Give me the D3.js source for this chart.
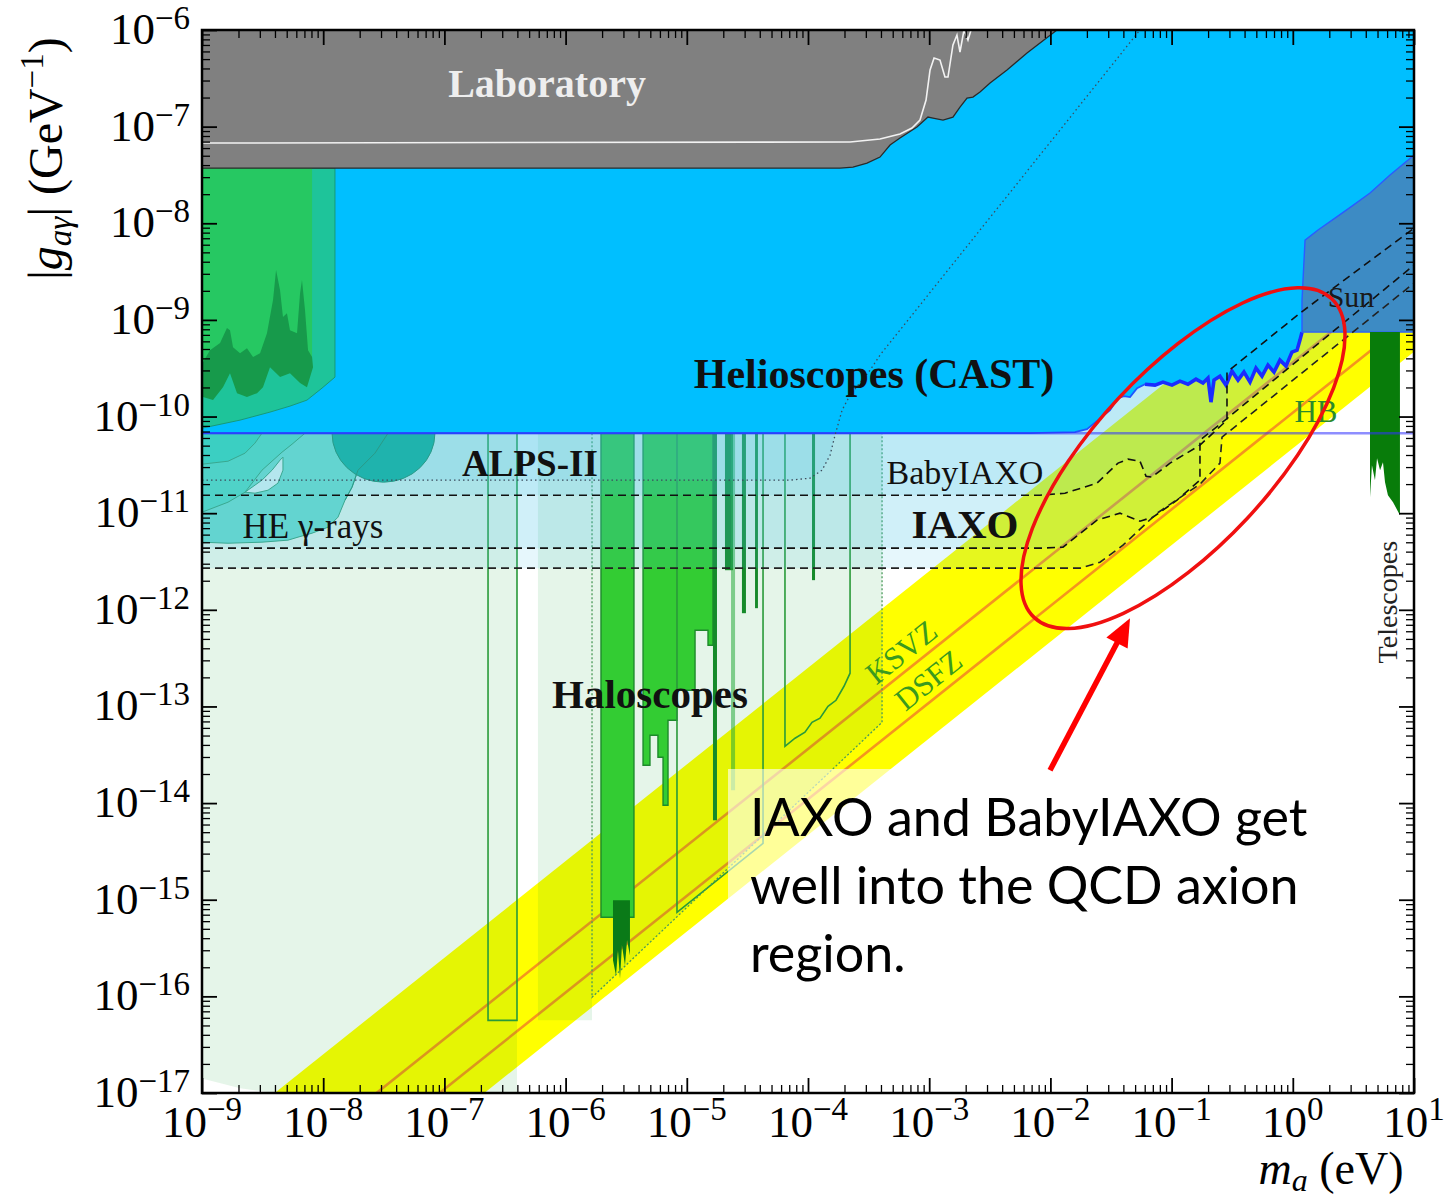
<!DOCTYPE html>
<html>
<head>
<meta charset="utf-8">
<script src="https://cdn.jsdelivr.net/npm/d3@7"></script>
<style>
  html, body { margin: 0; padding: 0; background: #fff; }
  svg { display: block; }
</style>
</head>
<body>
<svg id="chart" width="1446" height="1203"></svg>
<script>
// every point is [log10(m_a / eV), log10(|g_ag| / GeV^-1)]

const massDecades = d3.range(-9, 2);
const couplingDecades = d3.range(-17, -5);

// QCD axion band and the two model lines
const qcdUpper = [[-9, -17.60], [1, -7.60]];
const qcdLower = [[-9, -19.33], [1, -9.33]];
const ksvzLine = [[-9, -18.44], [1, -8.44]];
const dfszLine = [[-9, -18.96], [1, -8.96]];

// Laboratory (light shining through wall etc.)
const labRegion = [[-9, -6], [-1.946, -6], [-2.193, -6.238], [-2.358, -6.414], [-2.498, -6.549],
  [-2.581, -6.642], [-2.639, -6.694], [-2.688, -6.704], [-2.746, -6.797], [-2.804, -6.901],
  [-2.886, -6.932], [-2.969, -6.911], [-3.010, -6.901], [-3.101, -7.004], [-3.241, -7.118],
  [-3.323, -7.190], [-3.406, -7.315], [-3.513, -7.377], [-3.629, -7.418], [-3.736, -7.429], [-9, -7.429]];
const labWhiteLine = [[-9, -7.17], [-3.653, -7.159], [-3.406, -7.128], [-3.241, -7.077], [-3.142, -7.014],
  [-3.076, -6.932], [-3.026, -6.725], [-2.993, -6.414], [-2.960, -6.290], [-2.911, -6.311], [-2.870, -6.487],
  [-2.845, -6.487], [-2.804, -6.155], [-2.771, -6.052], [-2.746, -6.228], [-2.713, -6.0], [-2.680, -6.104], [-2.655, -6.0]];

// CAST lower edge (HB bound on the left, noisy CAST data on the right)
const castEdge = [[-9, -10.172], [-2.168, -10.172], [-1.797, -10.162], [-1.698, -10.130], [-1.607, -10.037],
  [-1.508, -9.934], [-1.442, -9.810], [-1.393, -9.789], [-1.343, -9.799], [-1.285, -9.706], [-1.219, -9.665],
  [-1.137, -9.675], [-1.071, -9.644], [-0.997, -9.675], [-0.931, -9.634], [-0.865, -9.665], [-0.799, -9.613],
  [-0.741, -9.654], [-0.700, -9.602], [-0.675, -9.851], [-0.650, -9.623], [-0.601, -9.582], [-0.551, -9.675],
  [-0.502, -9.530], [-0.452, -9.623], [-0.403, -9.540], [-0.353, -9.644], [-0.304, -9.499], [-0.254, -9.582],
  [-0.205, -9.468], [-0.155, -9.540], [-0.106, -9.416], [-0.056, -9.478], [-0.007, -9.333], [0.035, -9.313],
  [0.059, -9.209], [0.076, -9.126]];
const sunRegion = [[0.076, -9.126], [0.076, -8.795], [0.101, -8.174], [0.208, -8.070], [0.348, -7.946],
  [0.488, -7.822], [0.637, -7.687], [0.802, -7.501], [1, -7.294], [1, -9.126]];
const telescopes = [[0.637, -9.126], [0.884, -9.126], [0.884, -11.021], [0.827, -10.886], [0.785, -10.814],
  [0.761, -10.679], [0.744, -10.472], [0.720, -10.555], [0.695, -10.431], [0.678, -10.658], [0.653, -10.503],
  [0.637, -10.834]];

// astrophysics block in the upper left
const topLeftTeal = [[-9, -7.429], [-7.903, -7.429], [-7.903, -9.592], [-8.010, -9.706], [-8.134, -9.830],
  [-8.274, -9.892], [-8.439, -9.954], [-8.686, -10.037], [-9, -10.120]];
const topLeftGreen = [[-9, -7.429], [-8.092, -7.429], [-8.092, -9.47], [-9, -9.47]];
const darkGreenTop = [[-9, -9.44], [-8.992, -9.437], [-8.934, -9.313], [-8.851, -9.240], [-8.794, -9.085],
  [-8.769, -9.106], [-8.744, -9.282], [-8.686, -9.344], [-8.629, -9.292], [-8.579, -9.385], [-8.521, -9.344],
  [-8.464, -9.137], [-8.414, -8.795], [-8.389, -8.484], [-8.356, -8.692], [-8.332, -8.971], [-8.299, -8.930],
  [-8.274, -9.106], [-8.216, -9.137], [-8.191, -8.723], [-8.175, -8.588], [-8.150, -8.899], [-8.125, -9.313],
  [-8.092, -9.385]];
const darkGreenBottom = [[-8.084, -9.489], [-8.134, -9.696], [-8.191, -9.654], [-8.274, -9.551], [-8.356, -9.592],
  [-8.439, -9.489], [-8.497, -9.696], [-8.546, -9.758], [-8.629, -9.799], [-8.711, -9.758], [-8.769, -9.551],
  [-8.827, -9.696], [-8.909, -9.830], [-8.992, -9.799], [-9, -9.80]];

// HE gamma-ray bounds
const heOuter = [[-9, -10.172], [-7.465, -10.172], [-7.573, -10.379], [-7.713, -10.555], [-7.762, -10.731],
  [-7.820, -10.865], [-7.878, -11.041], [-7.960, -11.145], [-8.092, -11.207], [-8.208, -11.248],
  [-8.290, -11.279], [-8.505, -11.300], [-8.785, -11.311], [-9, -11.300]];
const heMid = [[-9, -10.172], [-8.150, -10.172], [-8.257, -10.286], [-8.340, -10.369], [-8.505, -10.555],
  [-8.645, -10.783], [-8.785, -10.886], [-9, -10.990]];
const heCorner = [[-9, -10.172], [-8.505, -10.172], [-8.563, -10.275], [-8.645, -10.379], [-8.785, -10.462], [-9, -10.493]];
const heHole = [[-8.645, -10.783], [-8.505, -10.658], [-8.422, -10.555], [-8.356, -10.451], [-8.332, -10.420],
  [-8.332, -10.555], [-8.373, -10.689], [-8.455, -10.762], [-8.563, -10.793]];
const heDisk = [-7.927, -7.078, -10.172, -10.679]; // mass from, mass to, g top, g bottom

// haloscopes: projected areas, outlines, and excluded strips
const paleLeft = [[-9, -10.172], [-6.401, -10.172], [-6.401, -17], [-8.398, -17], [-8.686, -16.952], [-9, -16.849]];
const paleMid = [[-6.228, -10.172], [-5.782, -10.172], [-5.782, -16.248], [-6.228, -16.248]];
const paleRight = [[-5.782, -10.172], [-5.782, -16.010], [-3.389, -13.164], [-3.389, -10.172]];
const outlineR1 = [[-6.640, -10.172], [-6.640, -16.248], [-6.401, -16.248], [-6.401, -10.172]];
const outlineP2 = [[-5.081, -10.172], [-5.081, -15.130], [-4.371, -14.416], [-4.371, -10.172]];
const outlineP4 = [[-4.190, -10.172], [-4.190, -13.412], [-4.107, -13.329], [-4.025, -13.267], [-3.967, -13.164],
  [-3.901, -13.122], [-3.835, -12.998], [-3.769, -12.936], [-3.703, -12.791], [-3.653, -12.656], [-3.653, -10.172]];
const stripA = [[-5.708, -10.172], [-5.708, -15.182], [-5.436, -15.182], [-5.436, -10.172]];
const stripADeep = [[-5.609, -15.006], [-5.609, -15.627], [-5.584, -15.783], [-5.568, -15.524], [-5.551, -15.814],
  [-5.535, -15.472], [-5.510, -15.679], [-5.493, -15.420], [-5.469, -15.576], [-5.469, -15.006]];
const stripB = [[-5.361, -10.172], [-5.361, -13.609], [-5.304, -13.609], [-5.304, -13.298], [-5.238, -13.298],
  [-5.238, -13.526], [-5.196, -13.526], [-5.196, -14.023], [-5.155, -14.023], [-5.155, -13.143], [-5.081, -13.143],
  [-5.081, -12.832], [-4.932, -12.832], [-4.932, -12.211], [-4.825, -12.211], [-4.825, -12.366], [-4.784, -12.366],
  [-4.784, -10.172]];
const thinStrips = [[-4.784, -4.751, -14.178], [-4.685, -4.619, -11.59], [-4.545, -4.512, -12.035],
  [-4.437, -4.413, -11.983], [-3.967, -3.942, -11.693]];
const faintStrip = [-4.635, -4.602, -13.867];

// projected sensitivities (lower edges)
const alpsCurve = [[-9, -10.658], [-4.149, -10.658], [-3.983, -10.638], [-3.884, -10.555], [-3.818, -10.400],
  [-3.777, -10.193], [-3.719, -9.934], [-3.653, -9.778], [-3.587, -9.675], [-3.488, -9.520], [-3.406, -9.364], [-1.261, -6]];
const babyCurve = [[-9, -10.814], [-2.086, -10.814], [-1.880, -10.793], [-1.616, -10.689], [-1.442, -10.482],
  [-1.360, -10.441], [-1.261, -10.462], [-1.211, -10.617], [-1.162, -10.627], [-1.013, -10.482], [-0.766, -10.296],
  [-0.543, -10.037], [-0.543, -9.540], [0.059, -8.930], [1, -8.050]];
const iaxoCurve = [[-9, -11.362], [-2.086, -11.362], [-1.896, -11.352], [-1.616, -11.072], [-1.426, -11.0],
  [-1.261, -11.083], [-1.153, -11.041], [-0.955, -10.865], [-0.766, -10.658], [-0.766, -10.244], [-0.559, -10.037], [1, -8.433]];
const iaxoPlusCurve = [[-9, -11.569], [-1.756, -11.569], [-1.591, -11.507], [-1.401, -11.331], [-1.120, -11.0],
  [-0.766, -10.700], [-0.601, -10.482], [-0.584, -10.213], [1, -8.619]];

const noteLines = ['IAXO and BabyIAXO get', 'well into the QCD axion', 'region.'];

// ---------------------------------------------------------------

const serif = '"Liberation Serif", "Times New Roman", serif';
const svg = d3.select('#chart');

const x = d3.scaleLog().domain([1e-9, 1e1]).range([202, 1414]);
const y = d3.scaleLog().domain([1e-17, 1e-6]).range([1093, 30]);
const px = d => x(Math.pow(10, d[0]));
const py = d => y(Math.pow(10, d[1]));
const line = d3.line().x(px).y(py);
const closed = pts => line(pts) + 'Z';
const [x0, x1] = x.range();
const [y1, y0] = y.range();

svg.append('rect').attr('width', 1446).attr('height', 1203).attr('fill', '#fff');
svg.append('defs').append('clipPath').attr('id', 'plotClip')
  .append('rect').attr('x', x0).attr('y', y0).attr('width', x1 - x0).attr('height', y1 - y0);

const plot = svg.append('g').attr('clip-path', 'url(#plotClip)');

function region(pts, fill, stroke, sw, dash) {
  return plot.append('path')
    .attr('d', closed(pts))
    .attr('fill', fill)
    .attr('stroke', stroke || 'none')
    .attr('stroke-width', sw || 1)
    .attr('stroke-dasharray', dash || null);
}
function curve(pts, stroke, sw, dash) {
  return plot.append('path')
    .attr('d', line(pts))
    .attr('fill', 'none')
    .attr('stroke', stroke)
    .attr('stroke-width', sw)
    .attr('stroke-dasharray', dash || null);
}
function strip(m0, m1, gTop, gBottom, fill) {
  return plot.append('rect')
    .attr('x', px([m0, 0])).attr('width', px([m1, 0]) - px([m0, 0]))
    .attr('y', py([0, gTop])).attr('height', py([0, gBottom]) - py([0, gTop]))
    .attr('fill', fill);
}
const topEdge = [[1, -6], [-9, -6]];

// QCD band
region([qcdUpper[0], qcdUpper[1], qcdLower[1], qcdLower[0]], '#ffff00');
curve(ksvzLine, '#f4951f', 2.6);
curve(dfszLine, '#f4951f', 2.6);

// haloscope projections
[paleLeft, paleMid, paleRight].forEach(p => region(p, 'rgba(0,160,40,0.1)'));

// haloscope exclusions
region(stripA, '#33cc33', '#1d8a2b', 1.4);
region(stripADeep, '#0a7a18');
region(stripB, '#33cc33', '#1d8a2b', 1.4);
thinStrips.forEach(s => strip(s[0], s[1], -10.172, s[2], '#168a2a'));
strip(faintStrip[0], faintStrip[1], -10.172, faintStrip[2], 'rgba(40,170,60,0.55)');
region(outlineR1, 'none', '#2a9a3a', 1.6);
region(outlineP2, 'none', '#2a9a3a', 1.6);
region(outlineP4, 'none', '#2a9a3a', 1.6);
region(paleRight, 'none', '#4a9a5a', 1.3, '2,2');

// projected sensitivity shading
[alpsCurve, babyCurve, iaxoCurve, iaxoPlusCurve].forEach(c =>
  region(c.concat(topEdge), 'rgba(60,190,230,0.13)'));

// HE gamma rays
region(heOuter, '#63d4d0', '#3aa890', 1);
region(heMid, '#4fd2c8', '#3aa890', 1);
region(heCorner, '#3bcfc2', '#3aa890', 1);
region(heHole, '#b4e6ee', '#3aa890', 1);
{
  const cx = (px([heDisk[0], 0]) + px([heDisk[1], 0])) / 2;
  const rx = (px([heDisk[1], 0]) - px([heDisk[0], 0])) / 2;
  const top = py([0, heDisk[2]]);
  const ry = py([0, heDisk[3]]) - top;
  plot.append('path')
    .attr('d', `M${cx - rx},${top} A${rx},${ry} 0 0 0 ${cx + rx},${top} Z`)
    .attr('fill', '#1fb3ad').attr('stroke', '#2a9a88').attr('stroke-width', 1);
  curve(heOuter.slice(1, 6), '#2a9a88', 1);
}

// helioscopes
region(castEdge.concat([[1, -9.126], [1, -6], [-9, -6]]), '#00bfff');
curve(castEdge.slice(0, 12), '#1f56ff', 1.8);
curve(castEdge.slice(10), '#1a2cff', 3.6);
region(sunRegion, '#3d8bc4', '#2a5cff', 1.4);

// top-left astrophysical bounds
region(topLeftTeal, '#1ec49a', '#179a78', 1);
region(topLeftGreen, '#26c862');
region(darkGreenTop.concat(darkGreenBottom), '#179a4b');

// telescopes
region(telescopes, '#087c0a');

// HB
curve([[-9, -10.172], [1, -10.172]], 'rgba(50,50,255,0.55)', 2.5);

// laboratory
region(labRegion, '#808080', '#2a2a2a', 1.3);
curve(labWhiteLine, '#f2f2f2', 1.6);

// projections
curve(alpsCurve, '#3c4c5c', 1.3, '1.5,3');
curve(babyCurve, '#111', 1.6, '8,5');
curve(iaxoCurve, '#111', 1.6, '8,5');
curve(iaxoPlusCurve, '#222', 1.6, '8,5');

// labels in the plot
const slope = -Math.atan((y1 - y0) / 11 / ((x1 - x0) / 10)) * 180 / Math.PI;
const inPlot = [
  { t: 'Laboratory', p: [-6.153, -6.694], s: 40, w: 'bold', c: '#eeeeee' },
  { t: 'Helioscopes (CAST)', p: [-3.455, -9.706], s: 42, w: 'bold', c: '#111' },
  { t: 'ALPS-II', p: [-6.294, -10.617], s: 37, w: 'bold', c: '#111' },
  { t: 'BabyIAXO', p: [-2.705, -10.700], s: 34, w: 'normal', c: '#111' },
  { t: 'IAXO', p: [-2.705, -11.259], s: 41, w: 'bold', c: '#111' },
  { t: 'HE \u03b3-rays', p: [-8.084, -11.259], s: 35, w: 'normal', c: '#111' },
  { t: 'Haloscopes', p: [-5.304, -13.019], s: 41, w: 'bold', c: '#111' },
  { t: 'Sun', p: [0.480, -8.868], s: 30, w: 'normal', c: '#1a1a1a' },
  { t: 'HB', p: [0.191, -10.058], s: 31, w: 'normal', c: '#2b8a2b' },
  { t: 'Telescopes', p: [0.860, -11.921], s: 28, w: 'normal', c: '#222', r: -90 },
  { t: 'KSVZ', p: [-3.175, -12.522], s: 31, w: 'normal', c: '#3a9a1e', r: slope },
  { t: 'DSFZ', p: [-2.952, -12.812], s: 31, w: 'normal', c: '#3a9a1e', r: slope }
];
plot.selectAll('text.lbl').data(inPlot).enter().append('text')
  .attr('class', 'lbl')
  .attr('transform', d => `translate(${px(d.p)},${py(d.p)}) rotate(${d.r || 0})`)
  .attr('text-anchor', 'middle')
  .attr('font-family', serif)
  .attr('font-size', d => d.s)
  .attr('font-weight', d => d.w)
  .attr('fill', d => d.c)
  .text(d => d.t);

// axes
const majorX = massDecades.map(e => Math.pow(10, e));
const majorY = couplingDecades.map(e => Math.pow(10, e));
const minorX = [], minorY = [];
massDecades.slice(0, -1).forEach(e => d3.range(2, 10).forEach(k => minorX.push(k * Math.pow(10, e))));
couplingDecades.slice(0, -1).forEach(e => d3.range(2, 10).forEach(k => minorY.push(k * Math.pow(10, e))));

function addTicks(axisFn, scale, transform, values, size, width) {
  const g = svg.append('g').attr('transform', transform)
    .call(axisFn(scale).tickValues(values).tickSize(-size).tickFormat(''));
  g.select('.domain').remove();
  g.selectAll('.tick line').attr('stroke', '#000').attr('stroke-width', width);
}
[[majorX, 15, 1.8], [minorX, 8, 1.3]].forEach(([v, s, w]) => {
  addTicks(d3.axisBottom, x, `translate(0,${y1})`, v, s, w);
  addTicks(d3.axisTop, x, `translate(0,${y0})`, v, s, w);
});
[[majorY, 15, 1.8], [minorY, 8, 1.3]].forEach(([v, s, w]) => {
  addTicks(d3.axisLeft, y, `translate(${x0},0)`, v, s, w);
  addTicks(d3.axisRight, y, `translate(${x1},0)`, v, s, w);
});
svg.append('rect').attr('x', x0).attr('y', y0).attr('width', x1 - x0).attr('height', y1 - y0)
  .attr('fill', 'none').attr('stroke', '#000').attr('stroke-width', 2.5);

const expText = e => (e < 0 ? '\u2212' + (-e) : String(e));
const xLab = svg.selectAll('text.xt').data(massDecades).enter().append('text')
  .attr('class', 'xt')
  .attr('x', e => x(Math.pow(10, e)))
  .attr('y', y1 + 44)
  .attr('text-anchor', 'middle')
  .attr('font-family', serif).attr('font-size', 45).attr('fill', '#000');
xLab.append('tspan').text('10');
xLab.append('tspan').attr('font-size', 33).attr('dy', -17).text(expText);

const yLab = svg.selectAll('text.yt').data(couplingDecades).enter().append('text')
  .attr('class', 'yt')
  .attr('x', x0 - 12)
  .attr('y', e => y(Math.pow(10, e)) + 14)
  .attr('text-anchor', 'end')
  .attr('font-family', serif).attr('font-size', 45).attr('fill', '#000');
yLab.append('tspan').text('10');
yLab.append('tspan').attr('font-size', 33).attr('dy', -15).text(expText);

const yTitle = svg.append('text')
  .attr('transform', `translate(62,${(y0 + 287) / 2}) rotate(-90)`)
  .attr('text-anchor', 'middle').attr('font-family', serif).attr('font-size', 48);
yTitle.append('tspan').text('|');
yTitle.append('tspan').attr('font-style', 'italic').text('g');
yTitle.append('tspan').attr('font-style', 'italic').attr('font-size', 33).attr('dy', 9).text('a\u03b3');
yTitle.append('tspan').attr('dy', -9).text('| (GeV');
yTitle.append('tspan').attr('font-size', 33).attr('dy', -19).text('\u22121');
yTitle.append('tspan').attr('dy', 19).text(')');

const xTitle = svg.append('text')
  .attr('x', 1331).attr('y', 1184)
  .attr('text-anchor', 'middle').attr('font-family', serif).attr('font-size', 46);
xTitle.append('tspan').attr('font-style', 'italic').text('m');
xTitle.append('tspan').attr('font-style', 'italic').attr('font-size', 32).attr('dy', 7).text('a');
xTitle.append('tspan').attr('dy', -7).text(' (eV)');

// slide annotation on top
svg.append('rect').attr('x', 728).attr('y', 769).attr('width', 590).attr('height', 220)
  .attr('fill', 'rgba(255,255,255,0.6)');
svg.selectAll('text.note').data(noteLines).enter().append('text')
  .attr('class', 'note')
  .attr('x', 750)
  .attr('y', (d, i) => 836 + i * 68)
  .attr('font-family', 'Lato, "Open Sans", sans-serif')
  .attr('font-size', 52)
  .attr('fill', '#000')
  .text(d => d);

const ringCenter = [-0.906, -10.431];
svg.append('ellipse')
  .attr('transform', `translate(${px(ringCenter)},${py(ringCenter)}) rotate(-47)`)
  .attr('rx', 218).attr('ry', 88)
  .attr('fill', 'none').attr('stroke', '#f01010').attr('stroke-width', 3.5);

const arrowTail = [-2.003, -13.660], arrowTip = [-1.343, -12.087];
{
  const tx = px(arrowTail), ty = py(arrowTail), hx = px(arrowTip), hy = py(arrowTip);
  const len = Math.hypot(hx - tx, hy - ty), ux = (hx - tx) / len, uy = (hy - ty) / len;
  const bx = hx - ux * 28, by = hy - uy * 28;
  svg.append('line').attr('x1', tx).attr('y1', ty).attr('x2', bx + ux * 2).attr('y2', by + uy * 2)
    .attr('stroke', '#ff0000').attr('stroke-width', 5.5);
  svg.append('path')
    .attr('d', `M${hx},${hy} L${bx - uy * 12},${by + ux * 12} L${bx + uy * 12},${by - ux * 12} Z`)
    .attr('fill', '#ff0000');
}
</script>
</body>
</html>
